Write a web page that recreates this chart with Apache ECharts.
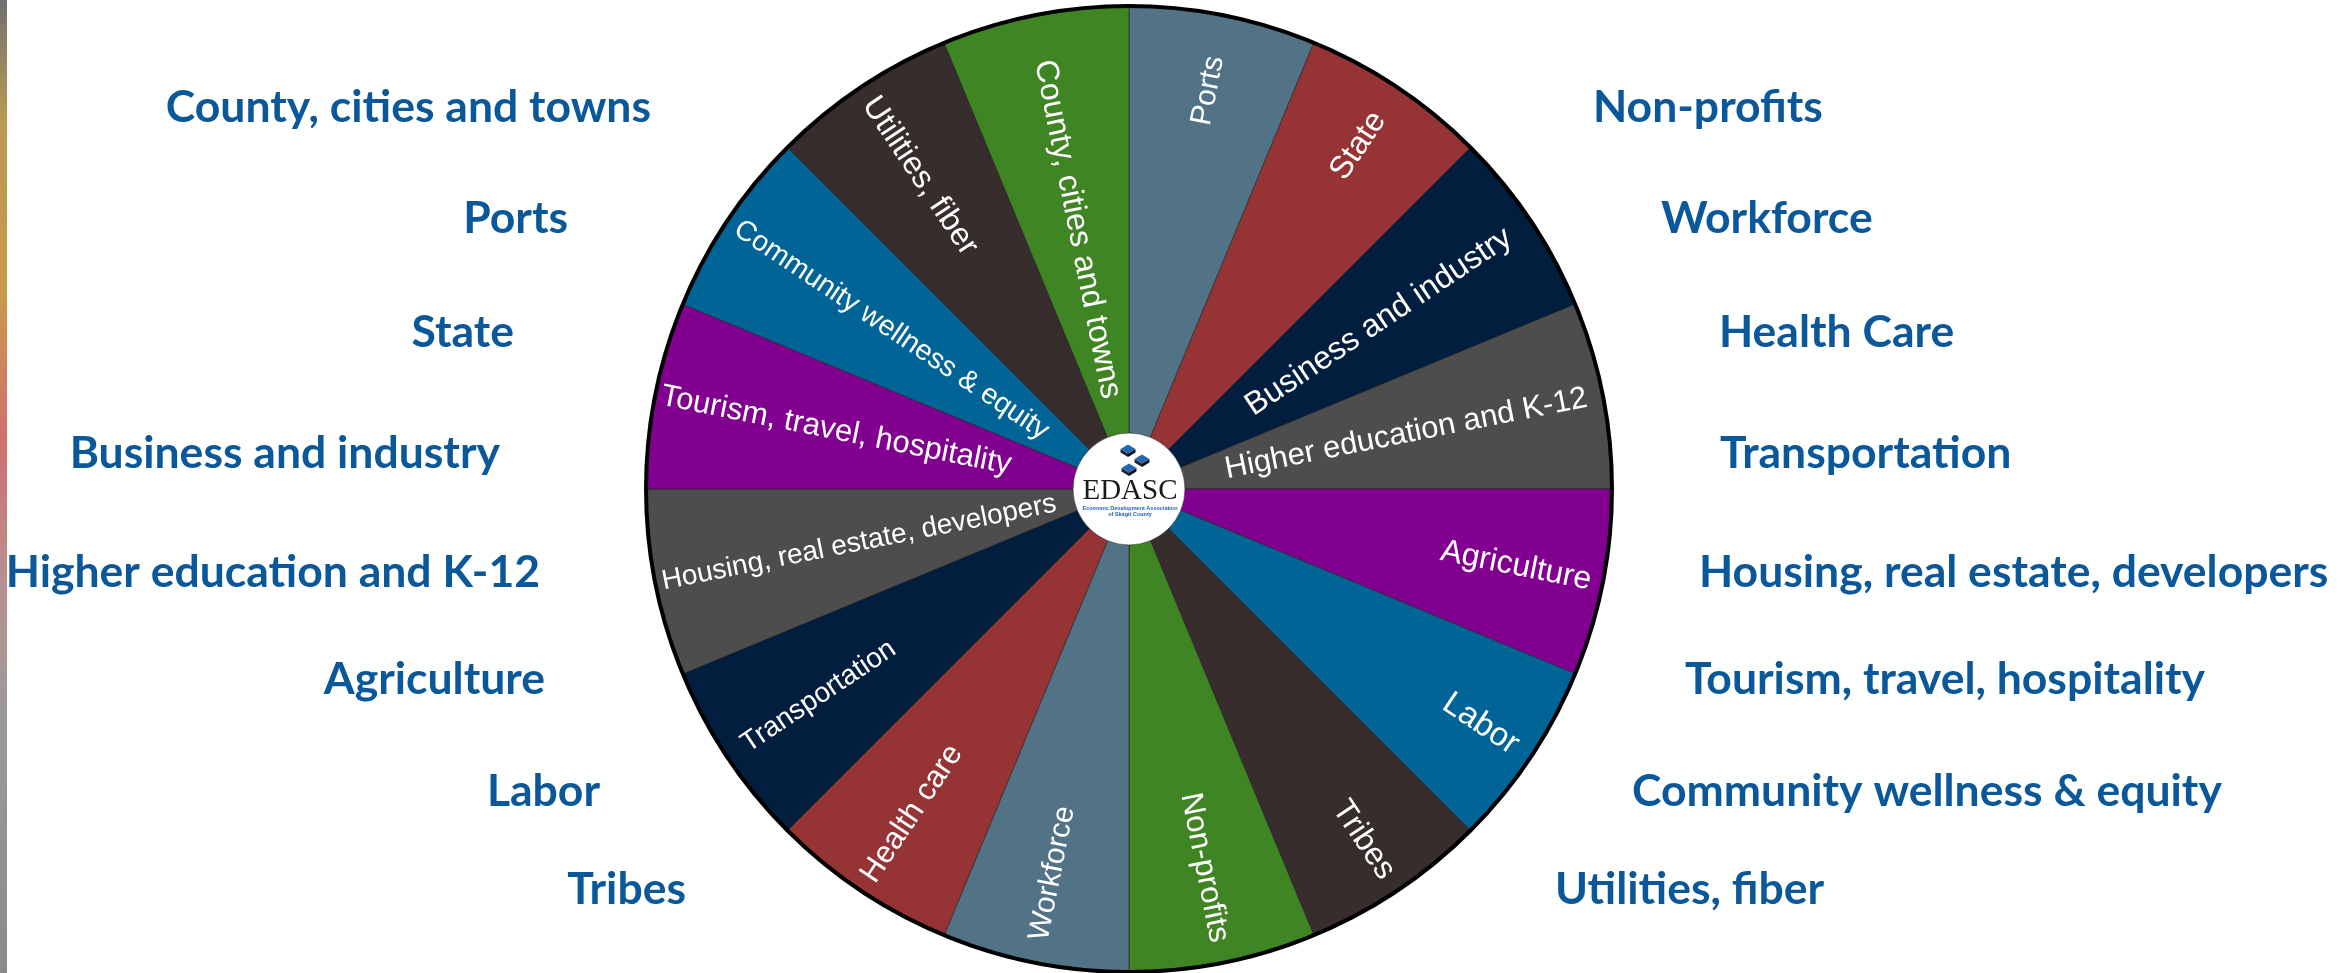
<!DOCTYPE html>
<html>
<head>
<meta charset="utf-8">
<script src="https://cdn.jsdelivr.net/npm/echarts@6/dist/echarts.min.js"></script>
<style>
html,body{margin:0;padding:0;background:#ffffff;}
#chart{width:2351px;height:973px;}
</style>
</head>
<body>
<div id="chart"></div>
<script>
// ---- data ----
const sectorNames = [
  'Ports', 'State', 'Business and industry', 'Higher education and K-12',
  'Agriculture', 'Labor', 'Tribes', 'Non-profits',
  'Workforce', 'Health care', 'Transportation', 'Housing, real estate, developers',
  'Tourism, travel, hospitality', 'Community wellness & equity', 'Utilities, fiber', 'County, cities and towns'
];
const sectorValues = [1, 1, 1, 1, 1, 1, 1, 1, 1, 1, 1, 1, 1, 1, 1, 1];
const sectorColors = [
  '#527386', '#953335', '#021e3e', '#4d4d4d', '#82008f', '#006596', '#382d2d', '#3f8524',
  '#527386', '#953335', '#021e3e', '#4d4d4d', '#82008f', '#006596', '#382d2d', '#3f8524'
];
const leftLabels = [
  'County, cities and towns', 'Ports', 'State', 'Business and industry',
  'Higher education and K-12', 'Agriculture', 'Labor', 'Tribes'
];
const rightLabels = [
  'Non-profits', 'Workforce', 'Health Care', 'Transportation',
  'Housing, real estate, developers', 'Tourism, travel, hospitality',
  'Community wellness & equity', 'Utilities, fiber'
];
const logoTitle = 'EDASC';
const logoSubtitle = ['Economic Development Association', 'of Skagit County'];

// ---- layout / style (pixels) ----
const CX = 1129, CY = 489, R0 = 56, R = 483;
const labelOuterRadius = [441, 450, 457, 467, 471, 465, 466, 462, 460, 470, 463, 476, 477, 472, 468, 437];
const labelFontSizes = [30, 32, 32, 31, 32, 33, 32, 31, 30, 31, 28, 28, 31, 28.5, 32, 32];
const rowY = [108, 219, 333, 454, 573, 680, 792, 890];
const leftRightEdge = [651, 568, 514, 500, 540, 545, 600, 686];
const rightLeftEdge = [1593, 1661, 1719, 1720, 1699, 1685, 1632, 1555];
const outerFont = { fontFamily: 'Lato, "Open Sans", sans-serif', fontWeight: 'bold', fontSize: 44.5, fill: '#0a5899' };
const innerFontFamily = '"Liberation Sans", Arial, sans-serif';

const n = sectorNames.length;
const pieData = sectorNames.map((name, i) => ({
  name: name,
  value: sectorValues[i],
  itemStyle: { color: sectorColors[i] }
}));

const graphics = [];
// left photo strip remnant
graphics.push({
  type: 'rect', shape: { x: 0, y: 0, width: 7, height: 973 }, silent: true,
  style: { fill: new echarts.graphic.LinearGradient(0, 0, 0, 1, [
    { offset: 0, color: '#707070' }, { offset: 0.12, color: '#b89a55' },
    { offset: 0.3, color: '#c99a4a' }, { offset: 0.45, color: '#d07070' },
    { offset: 0.6, color: '#b79090' }, { offset: 0.75, color: '#9a9a9a' },
    { offset: 1, color: '#8a8a8a' }
  ]) }
});
leftLabels.forEach((t, i) => {
  graphics.push({ type: 'text', x: leftRightEdge[i], y: rowY[i], silent: true,
    style: Object.assign({ text: t, align: 'right', verticalAlign: 'middle' }, outerFont) });
});
rightLabels.forEach((t, i) => {
  graphics.push({ type: 'text', x: rightLeftEdge[i], y: rowY[i], silent: true,
    style: Object.assign({ text: t, align: 'left', verticalAlign: 'middle' }, outerFont) });
});
// outer ring
graphics.push({ type: 'circle', shape: { cx: CX, cy: CY, r: R }, silent: true, z: 10,
  style: { fill: null, stroke: '#000000', lineWidth: 4 } });
// logo cubes
function cube(x, y, s) {
  const h = s * 0.45;
  return [
    { type: 'polygon', silent: true, z: 12, shape: { points: [[x - s, y], [x, y + s * 0.6], [x, y + s * 0.6 + h], [x - s, y + h]] }, style: { fill: '#1b2430' } },
    { type: 'polygon', silent: true, z: 12, shape: { points: [[x + s, y], [x, y + s * 0.6], [x, y + s * 0.6 + h], [x + s, y + h]] }, style: { fill: '#0c121a' } },
    { type: 'polygon', silent: true, z: 12, shape: { points: [[x, y - s * 0.6], [x + s, y], [x, y + s * 0.6], [x - s, y]] }, style: { fill: '#2467b5' } }
  ];
}
[[-1, -40], [13, -30], [0, -21]].forEach(p => { cube(CX + p[0], CY + p[1], 7.5).forEach(g => graphics.push(g)); });
graphics.push({ type: 'text', x: CX + 1, y: CY + 2, silent: true, z: 12,
  style: { text: logoTitle, align: 'center', verticalAlign: 'middle', fontFamily: '"Liberation Serif", "DejaVu Serif", serif', fontSize: 29, fill: '#1a1a1a' } });
logoSubtitle.forEach((t, i) => {
  graphics.push({ type: 'text', x: CX + 1, y: CY + 19 + i * 6, silent: true, z: 12,
    style: { text: t, align: 'center', verticalAlign: 'middle', fontFamily: innerFontFamily, fontWeight: 'bold', fontSize: 5.5, fill: '#1f5fae' } });
});

// place each sector label radially, anchored at its outer end
function sectorLabelLayout(params) {
  const i = params.dataIndex;
  const midDeg = (i + 0.5) * 360 / n;          // clockwise from 12 o'clock
  const theta = (90 - midDeg) * Math.PI / 180; // math angle
  const r = labelOuterRadius[i];
  const right = Math.cos(theta) >= 0;
  let rot = theta * 180 / Math.PI;
  if (!right) rot += 180;
  return {
    x: CX + r * Math.cos(theta),
    y: CY - r * Math.sin(theta),
    rotate: rot,
    align: right ? 'right' : 'left',
    verticalAlign: 'middle',
    fontSize: labelFontSizes[i]
  };
}

const chart = echarts.init(document.getElementById('chart'));
chart.setOption({
  animation: false,
  backgroundColor: '#ffffff',
  series: [{
    type: 'pie',
    center: [CX, CY],
    radius: [R0, R],
    startAngle: 90,
    clockwise: true,
    silent: true,
    data: pieData,
    itemStyle: { borderColor: 'rgba(25,25,25,0.55)', borderWidth: 1 },
    labelLine: { show: false },
    label: {
      show: true,
      position: 'inside',
      rotate: 'radial',
      color: '#ffffff',
      fontFamily: innerFontFamily,
      fontSize: 31
    },
    labelLayout: sectorLabelLayout
  }],
  graphic: graphics
});
</script>
</body>
</html>
